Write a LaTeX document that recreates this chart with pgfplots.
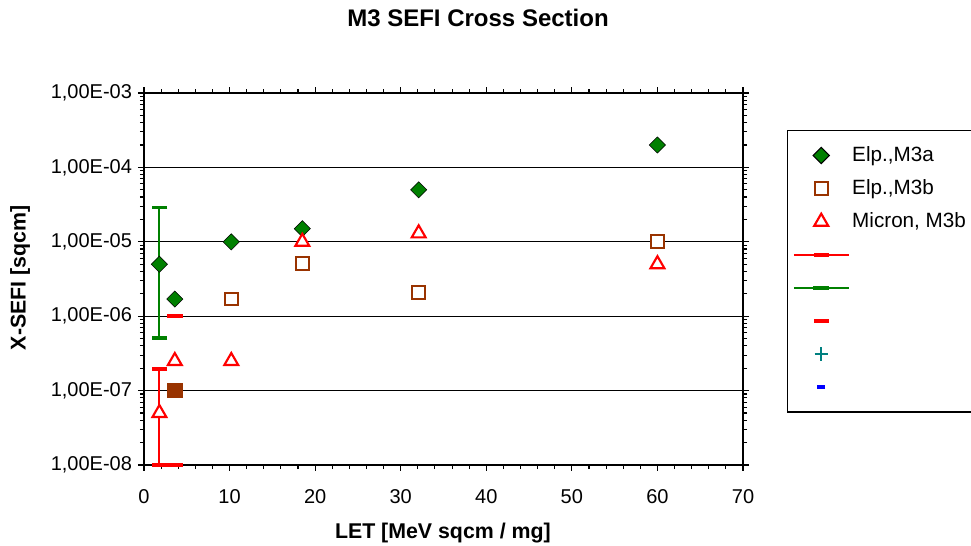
\documentclass[border=0pt]{standalone}
\usepackage{fontspec}
\setmainfont{Liberation Sans}
\usepackage{pgfplots}
\pgfplotsset{compat=1.18}
\usetikzlibrary{calc}
\definecolor{xlgreen}{HTML}{008000}
\definecolor{xlbrown}{HTML}{993300}
\definecolor{xlred}{HTML}{FF0000}
\definecolor{xlteal}{HTML}{008080}
\definecolor{xlblue}{HTML}{0000FF}
\begin{document}
\begin{tikzpicture}
\begin{axis}[
  name=ax,
  scale only axis,
  width=449.25pt, height=279pt,
  xmin=0, xmax=70, ymin=1e-8, ymax=1e-3,
  ymode=log,
  clip=false,
  xtick={0,10,...,70},
  minor x tick num=4,
  ytick={1e-8,1e-7,1e-6,1e-5,1e-4,1e-3},
  yticklabels={{1,00E-08},{1,00E-07},{1,00E-06},{1,00E-05},{1,00E-04},{1,00E-03}},
  ymajorgrids,
  major grid style={black, line width=0.75pt},
  axis line style={black, line width=1.2pt},
  tick align=outside,
  major tick length=4.5pt,
  minor tick length=3pt,
  tick style={black, line width=0.8pt},
  /pgf/number format/assume math mode=true,
  tick label style={font=\fontsize{15}{17}\selectfont},
  xticklabel style={yshift=-10pt},
  yticklabel style={xshift=-1pt},
  title={\textbf{M3 SEFI Cross Section}},
  title style={font=\fontsize{18}{20}\selectfont, at={(axis description cs:0.5576,1.2016)}, anchor=center, yshift=-6pt},
  xlabel={\textbf{LET [MeV sqcm / mg]}},
  xlabel style={font=\fontsize{16}{18}\selectfont, at={(axis description cs:0.499,-0.183)}, anchor=center},
  ylabel={\textbf{X-SEFI [sqcm]}},
  ylabel style={font=\fontsize{16}{18}\selectfont, at={(axis description cs:-0.207,0.503)}, anchor=center},
  legend image code/.code={\draw[mark repeat=2,mark phase=2,#1] plot coordinates {(0pt,0pt)(20.5pt,0pt)(41pt,0pt)};},
  legend style={at={(axis description cs:1.0735,0.9005)}, anchor=north west,
    draw=black, line width=0.8pt, font=\fontsize{15.5}{18}\selectfont,
    nodes={text height=11.5pt, text depth=3pt, inner sep=2pt},
    row sep=6.3pt, inner xsep=4pt, inner ysep=9.5pt},
  legend cell align=left,
]
% error bar series (drawn first)
\addplot[xlred, line width=1.5pt, mark=-, mark size=5.8pt, mark options={line width=3pt}, forget plot]
  coordinates {(1.8,1e-8) (1.8,1.95e-7)};
\addplot[xlgreen, line width=1.5pt, mark=-, mark size=5.9pt, mark options={line width=2.5pt}, forget plot]
  coordinates {(1.8,5.1e-7) (1.8,2.9e-5)};
\addplot[only marks, xlred, mark=-, mark size=5.8pt, mark options={line width=3pt}, forget plot]
  coordinates {(3.6,1e-6) (3.6,1e-8)};
\addplot[only marks, xlbrown, mark=square*, mark size=5.3pt, mark options={draw=none, fill=xlbrown}, forget plot]
  coordinates {(3.6,1e-7)};
% marker series
\addplot[only marks, mark=square*, mark size=4.3pt, mark options={rotate=45, draw=none, fill=xlgreen}]
  coordinates {(1.8,5e-6) (3.6,1.7e-6) (10.2,1e-5) (18.5,1.5e-5) (32.1,5e-5) (60,2e-4)};
\addlegendentry{Elp.,M3a}
\addplot[only marks, mark=square*, mark size=4.8pt, mark options={draw=xlbrown, fill=white, line width=1.5pt}]
  coordinates {(10.2,1.7e-6) (18.5,5.1e-6) (32.1,2.1e-6) (60,1e-5)};
\addlegendentry{Elp.,M3b}
\addplot[only marks, mark=triangle*, mark size=6pt, mark options={draw=xlred, fill=white, line width=1.6pt}]
  coordinates {(1.8,5e-8) (3.6,2.5e-7) (10.2,2.5e-7) (18.5,1e-5) (32.1,1.3e-5) (60,5e-6)};
\addlegendentry{Micron, M3b}
\addlegendimage{xlred, line width=1.5pt, mark=-, mark size=5.8pt, mark options={line width=3pt}}
\addlegendentry{}
\addlegendimage{xlgreen, line width=1.5pt, mark=-, mark size=5.9pt, mark options={line width=3pt}}
\addlegendentry{}
\addlegendimage{only marks, xlred, mark=-, mark size=5.8pt, mark options={line width=3pt}}
\addlegendentry{}
\addlegendimage{only marks, xlteal, mark=+, mark size=5pt, mark options={line width=1.5pt}}
\addlegendentry{}
\addlegendimage{only marks, xlblue, mark=-, mark size=3pt, mark options={line width=2.5pt}}
\addlegendentry{}
\end{axis}
\pgfresetboundingbox
\useasboundingbox ($(ax.south west)+(-108pt,-60.75pt)$) rectangle ($(ax.south west)+(620.25pt,348.75pt)$);
\end{tikzpicture}
\end{document}
